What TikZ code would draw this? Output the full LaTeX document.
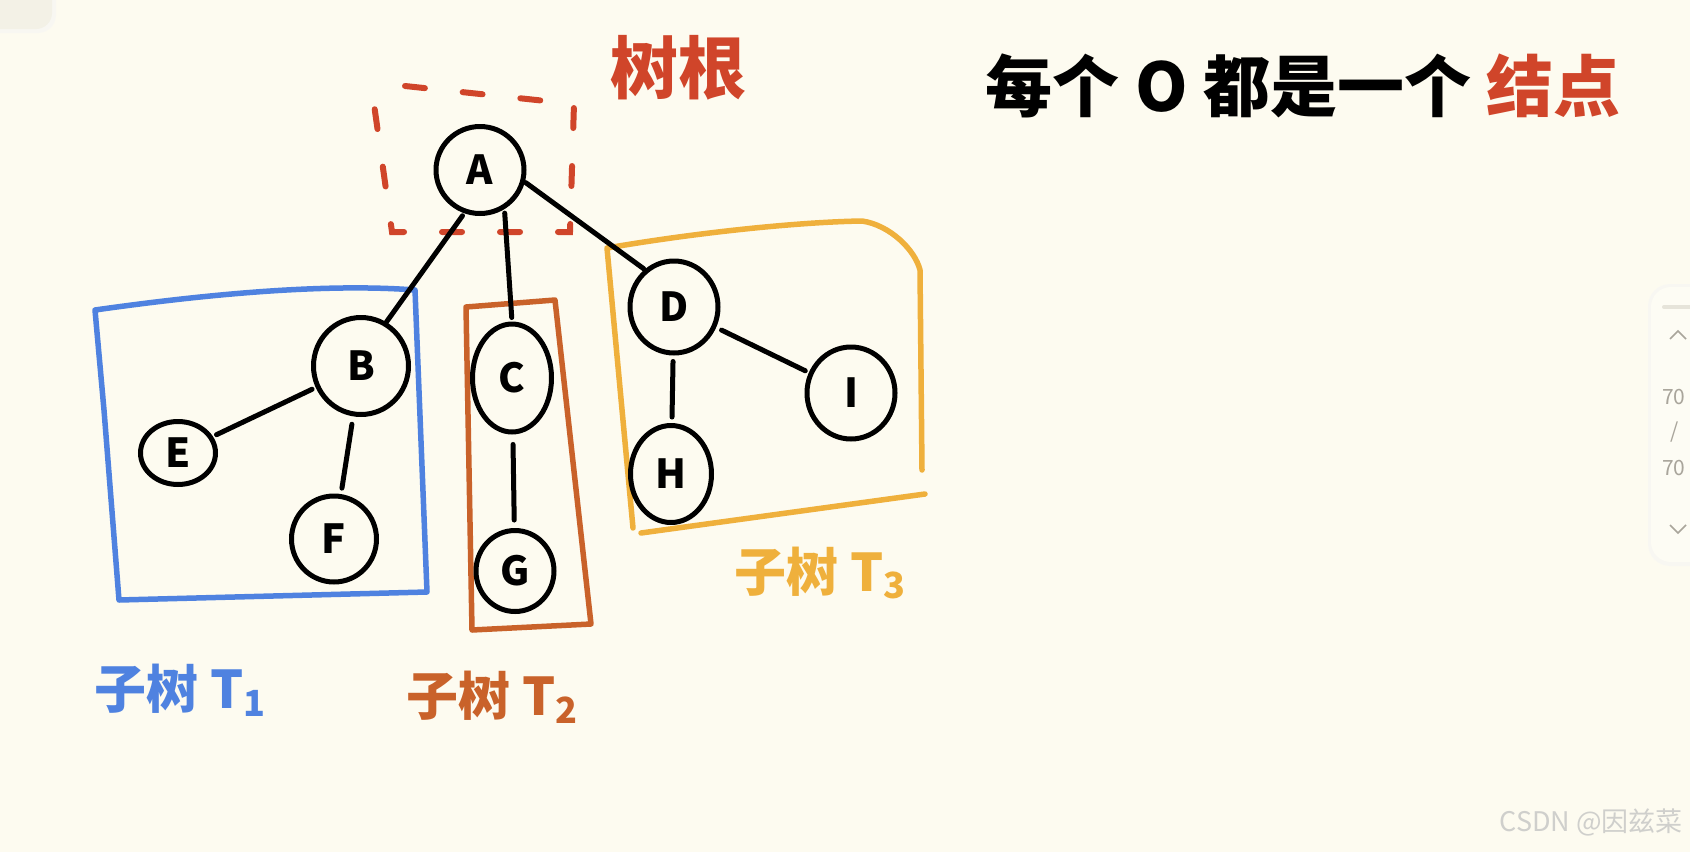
\documentclass[tikz,border=0pt]{standalone}
\usepackage{fontspec}
\setmainfont{Noto Sans CJK SC}
\usetikzlibrary{shapes.geometric}
\definecolor{bg}{HTML}{FDFBF0}
\definecolor{rootred}{HTML}{D0452A}
\definecolor{tblue}{HTML}{4F82E0}
\definecolor{tbrown}{HTML}{C9622A}
\definecolor{tyellow}{HTML}{EFB03C}
\definecolor{uigray}{HTML}{A9A59B}
\definecolor{wmgray}{HTML}{CFCFCC}
\definecolor{panelc}{HTML}{F3F1E6}
\definecolor{widgetc}{HTML}{FDFCF4}
\definecolor{barc}{HTML}{E6E4DA}
\tikzset{
  tnode/.style={ellipse, draw=black, line width=5pt, inner sep=0pt,
    font=\fontsize{40}{40}\selectfont\bfseries},
  edge/.style={draw=black, line width=5pt, line cap=round},
  boxline/.style={line width=5.5pt, line cap=round, line join=round},
  lbl/.style={font=\fontsize{52}{52}\selectfont\bfseries, inner sep=0pt},
  uitext/.style={font=\fontsize{21}{21}\selectfont, text=uigray, inner sep=0pt, anchor=west}
}
\begin{document}
\begin{tikzpicture}[x=1pt,y=-1pt]
\fill[bg] (0,0) rectangle (1690,852);
\useasboundingbox (0,0) rectangle (1690,852);
% top-left faint panel
\fill[rounded corners=18pt, fill=black!4, opacity=0.5] (-30,-30) rectangle (56,33);
\fill[rounded corners=16pt, fill=panelc] (-30,-30) rectangle (52,29);
% right UI widget
\fill[rounded corners=22pt, fill=black!4, opacity=0.5] (1648,284) rectangle (1720,566);
\fill[rounded corners=20pt, fill=widgetc] (1651,287) rectangle (1720,562);
\draw[line width=4pt, draw=barc, line cap=round] (1664,307) -- (1700,307);
\draw[line width=1.5pt, uigray] (1670,339) -- (1678,331) -- (1686,339);
\node[uitext] (u1) at (1662,397) {70};
\node[uitext] (u2) at (1670,432) {/};
\node[uitext] (u3) at (1662,468) {70};
\draw[line width=1.5pt, uigray] (1670,525) -- (1678,533) -- (1686,525);
% title
\node[font=\fontsize{67}{67}\selectfont\bfseries, inner sep=0pt] (title) at (1303,86)
  {每个 O 都是一个 \textcolor{rootred}{结点}};
% root label
\node[font=\fontsize{68}{68}\selectfont\bfseries, text=rootred, inner sep=0pt] (rootlbl) at (678,68) {树根};
% dashed root box
\draw[rootred, line width=6pt, line cap=round, dash pattern=on 20pt off 38pt]
  (405,86) -- (574,104) -- (570,232) -- (392,232) -- (372,90);
% subtree boxes
\draw[tblue, boxline] (95,310) .. controls (250,288) and (350,285) .. (415,290)
  -- (427,592) -- (119,600) -- (104,410) -- (95,310);
\draw[tbrown, boxline] (466,307) -- (555,300) -- (591,624) -- (472,630) -- (466,307);
\draw[tyellow, boxline] (607,248) .. controls (700,232) and (800,222) .. (862,221)
  .. controls (890,225) and (915,250) .. (920,270) -- (922,470)
  (925,494) -- (641,533) (607,248) -- (633,528);
% nodes
\node[tnode, minimum width=88pt, minimum height=87pt] (A) at (480,170) {A};
\node[tnode, minimum width=95pt, minimum height=97pt] (B) at (361,366) {B};
\node[tnode, minimum width=79pt, minimum height=108pt] (C) at (512,378) {C};
\node[tnode, minimum width=88pt, minimum height=92pt] (D) at (674,307) {D};
\node[tnode, minimum width=75pt, minimum height=63pt] (E) at (178,453) {E};
\node[tnode, minimum width=85pt, minimum height=86pt] (F) at (334,539) {F};
\node[tnode, minimum width=78pt, minimum height=81pt] (G) at (515,571) {G};
\node[tnode, minimum width=81pt, minimum height=97pt] (H) at (671,474) {H};
\node[tnode, minimum width=88pt, minimum height=92pt] (I) at (851,393) {I};
% edges
\draw[edge, shorten <=3pt] (A.-110) -- (B.60);
\draw[edge, shorten <=4pt, shorten >=4pt] (A.-58) -- (C.north);
\draw[edge, shorten <=1pt, shorten >=1pt] (A.-15) -- (D.128);
\draw[edge, shorten <=4pt, shorten >=4pt] (B) -- (E);
\draw[edge, shorten <=8pt, shorten >=6pt] (B) -- (F);
\draw[edge, shorten <=10pt, shorten >=8pt] (C) -- (G);
\draw[edge, shorten <=6pt, shorten >=6pt] (D) -- (H);
\draw[edge, shorten <=6pt, shorten >=4pt] (D) -- (I);
% labels
\node[lbl, text=tblue] (t1) at (180,690) {子树 T\raisebox{-0.15em}{\fontsize{36}{36}\selectfont 1}};
\node[lbl, text=tbrown] (t2) at (492,697) {子树 T\raisebox{-0.15em}{\fontsize{36}{36}\selectfont 2}};
\node[lbl, text=tyellow] (t3) at (820,573) {子树 T\raisebox{-0.15em}{\fontsize{36}{36}\selectfont 3}};
% watermark
\node[font=\fontsize{27}{27}\selectfont, text=wmgray, inner sep=0pt, anchor=east] (wm) at (1683,822) {CSDN @因兹菜};
\end{tikzpicture}
\end{document}
